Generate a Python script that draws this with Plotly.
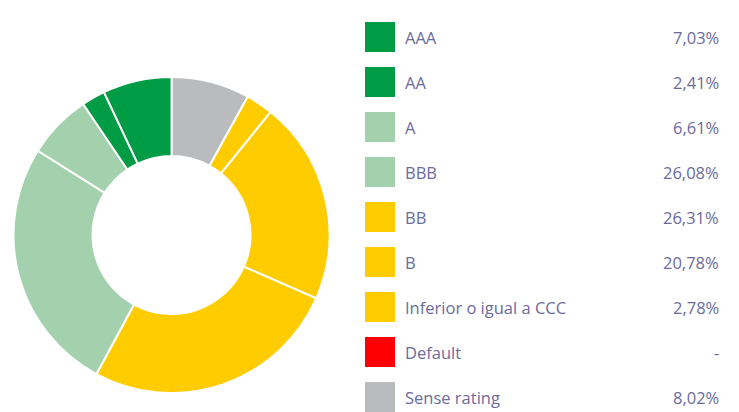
import plotly.graph_objects as go

categories = ["AAA", "AA", "A", "BBB", "BB", "B", "Inferior o igual a CCC", "Default", "Sense rating"]
values = [7.03, 2.41, 6.61, 26.08, 26.31, 20.78, 2.78, None, 8.02]
colors = ["#009b45", "#009b45", "#a3d1ad", "#a3d1ad", "#ffcc00", "#ffcc00", "#ffcc00", "#ff0000", "#b9bbbf"]

text_color = "#6b6b9c"
font_family = "'Open Sans', 'Noto Sans', sans-serif"

def fmt(v):
    return "-" if v is None else f"{v:.2f}".replace(".", ",") + "%"

pie_values = [0 if v is None else v for v in values]

fig = go.Figure()
# Drawn clockwise from 12 o'clock in reverse legend order (AAA ends up just left of top)
fig.add_trace(go.Pie(
    labels=categories[::-1], values=pie_values[::-1],
    marker=dict(colors=colors[::-1], line=dict(color="white", width=2)),
    hole=0.5, sort=False, direction="clockwise", rotation=0,
    textinfo="none", hoverinfo="label+value", showlegend=False,
    domain=dict(x=[13/739, 330/739], y=[19/412, 335/412]),
))

rows = list(range(len(categories)))
fig.add_trace(go.Scatter(
    x=[380] * len(categories), y=rows, mode="markers",
    marker=dict(symbol="square", size=30, color=colors, line=dict(width=0)),
    showlegend=False, hoverinfo="skip",
))

annotations = []
for i, (c, v) in enumerate(zip(categories, values)):
    annotations.append(dict(x=403, y=i, xref="x", yref="y", text=c, showarrow=False,
                            xanchor="left", yanchor="middle",
                            font=dict(family=font_family, size=16.5, color=text_color)))
    annotations.append(dict(x=721, y=i, xref="x", yref="y", text=fmt(v), showarrow=False,
                            xanchor="right", yanchor="middle",
                            font=dict(family=font_family, size=16.5, color=text_color)))

fig.update_layout(
    width=739, height=412,
    margin=dict(l=0, r=0, t=0, b=0),
    paper_bgcolor="white", plot_bgcolor="white",
    xaxis=dict(range=[0, 739], visible=False, domain=[0, 1], fixedrange=True),
    yaxis=dict(range=[375/45, -37/45], visible=False, domain=[0, 1], fixedrange=True),
    annotations=annotations,
)

fig.write_html("out.html", config={"displayModeBar": False},
               post_script="document.body.style.margin='0';document.body.style.overflow='hidden';")
